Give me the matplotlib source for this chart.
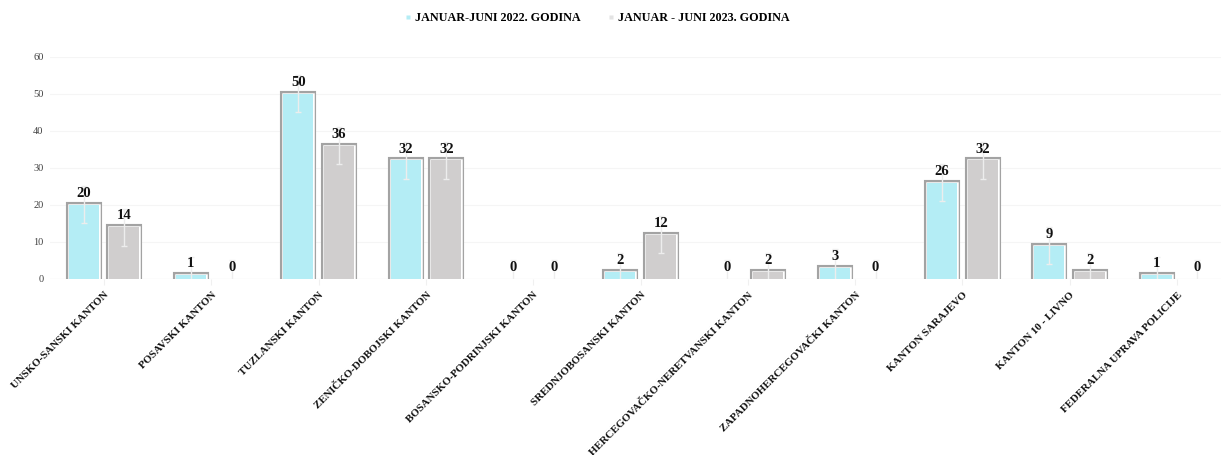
import matplotlib
matplotlib.use('Agg')
import matplotlib.pyplot as plt
import matplotlib.patheffects as pe
from matplotlib.lines import Line2D
import numpy as np

# data
categories = ['UNSKO-SANSKI KANTON', 'POSAVSKI KANTON', 'TUZLANSKI KANTON',
              'ZENIČKO-DOBOJSKI KANTON', 'BOSANSKO-PODRINJSKI KANTON',
              'SREDNJOBOSANSKI KANTON', 'HERCEGOVAČKO-NERETVANSKI KANTON',
              'ZAPADNOHERCEGOVAČKI KANTON', 'KANTON SARAJEVO', 'KANTON 10 - LIVNO',
              'FEDERALNA UPRAVA POLICIJE']
series_names = ['JANUAR-JUNI 2022. GODINA', 'JANUAR - JUNI 2023. GODINA']
values_2022 = [20, 1, 50, 32, 0, 2, 0, 3, 26, 9, 1]
values_2023 = [14, 0, 36, 32, 0, 12, 2, 0, 32, 2, 0]
err = 5
y_ticks = [0, 10, 20, 30, 40, 50, 60]

CYAN = '#B4EDF5'
GRAY = '#D0CECE'
BORDER = '#A3A3A3'
ERR = '#EDEDED'
FONT = 'Liberation Serif'

fig = plt.figure(figsize=(12.21, 4.55), dpi=100)
fig.patch.set_facecolor('white')
W, H = 1221, 455
left_px, right_px = 50.4, 1221
top_px, bot_px = 56.7, 279
ax = fig.add_axes([left_px / W, 1 - bot_px / H, (right_px - left_px) / W, (bot_px - top_px) / H])

x = np.arange(len(categories))
bw = 0.28
off = 0.19
effects = [pe.Stroke(linewidth=4.4, foreground=BORDER),
           pe.Stroke(linewidth=1.8, foreground='white'),
           pe.Normal()]

for vals, color, sign in [(values_2022, CYAN, -1), (values_2023, GRAY, 1)]:
    xs = x + sign * off
    bars = ax.bar(xs, vals, width=bw, color=color, edgecolor='none', zorder=2)
    for b, v in zip(bars, vals):
        if v > 0:
            b.set_path_effects(effects)
    ax.errorbar(xs, vals, yerr=err, fmt='none', ecolor=ERR, elinewidth=1,
                capsize=2, capthick=1, zorder=3)
    for xi, v in zip(xs, vals):
        ax.annotate(str(v), (xi, v), xytext=(0, 3.5), textcoords='offset points',
                    ha='center', va='bottom', fontsize=10.5, fontweight='bold',
                    family=FONT, color='#111111', zorder=4)

ax.set_xlim(-0.5, -0.5 + (right_px - left_px) / 107.3)
ax.set_ylim(0, 60)
ax.set_yticks(y_ticks)
ax.set_yticklabels([str(t) for t in y_ticks], fontsize=7.5, family=FONT, color='#404040')
ax.tick_params(axis='y', length=0, pad=5)
ax.set_xticks(x)
ax.set_xticklabels(categories, rotation=45, ha='right', va='top', rotation_mode='anchor',
                   fontsize=7.8, fontweight='bold', family=FONT, color='#111111')
ax.tick_params(axis='x', length=4, color='#F0F0F0', pad=4)
ax.grid(axis='y', color='#F5F5F5', linewidth=0.8, zorder=0)
ax.set_axisbelow(True)
for s in ax.spines.values():
    s.set_visible(False)
ax.axhline(0, color='#EBEBEB', linewidth=0.8, zorder=1)

handles = [Line2D([], [], marker='s', linestyle='none', markersize=3,
                  markerfacecolor=CYAN, markeredgecolor='none'),
           Line2D([], [], marker='s', linestyle='none', markersize=3,
                  markerfacecolor='#E3E3E3', markeredgecolor='none')]
leg = fig.legend(handles, series_names, loc='upper center', bbox_to_anchor=(0.489, 0.998),
                 ncol=2, frameon=False, handlelength=0.6, handletextpad=0.3,
                 columnspacing=2.2, prop={'family': FONT, 'weight': 'bold', 'size': 8.7})

fig.savefig('out.png', dpi=100, facecolor='white')
